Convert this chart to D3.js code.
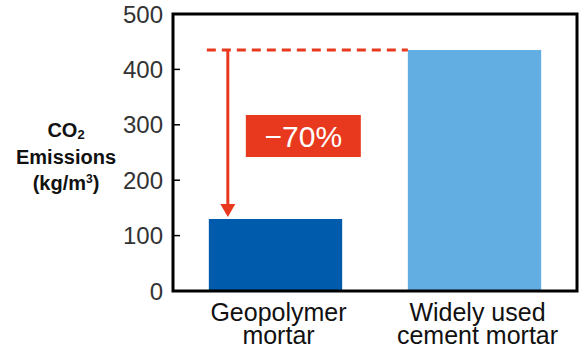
<!DOCTYPE html>
<html>
<head>
<meta charset="utf-8">
<script src="https://cdn.jsdelivr.net/npm/d3@7"></script>
<style>
  body { margin: 0; background: #fff; }
  svg { display: block; font-family: "Liberation Sans", Arial, sans-serif; }
  .tick-label { fill: #333; font-size: 24px; }
  .cat-label { fill: #111; font-size: 25px; }
  .y-title { fill: #111; font-size: 20px; font-weight: bold; }
</style>
</head>
<body>
<svg id="chart"></svg>
<script>
const categories = [['Geopolymer', 'mortar'], ['Widely used', 'cement mortar']];
const values = [130, 435];
const barColors = ['#005bac', '#62aee2'];
const yTicks = [0, 100, 200, 300, 400, 500];
const reductionLabel = '\u221270%';

const W = 582, H = 350;
const margin = {top: 14, right: 5, bottom: 59, left: 173};
const width = W - margin.left - margin.right;
const height = H - margin.top - margin.bottom;
const red = '#e8391f';

const svg = d3.select('#chart').attr('width', W).attr('height', H);
const g = svg.append('g').attr('transform', `translate(${margin.left},${margin.top})`);

const y = d3.scaleLinear().domain([0, 500]).range([height, 0]);
const x = d3.scaleBand().domain(d3.range(categories.length)).range([0, width])
  .paddingInner(0.33).paddingOuter(0.18);

// bars
g.selectAll('.bar').data(values).enter().append('rect')
  .attr('class', 'bar')
  .attr('x', (d, i) => x(i))
  .attr('width', x.bandwidth())
  .attr('y', d => y(d))
  .attr('height', d => y(0) - y(d))
  .attr('fill', (d, i) => barColors[i]);

// frame
g.append('rect').attr('x', 0).attr('y', 0).attr('width', width).attr('height', height)
  .attr('fill', 'none').attr('stroke', '#000').attr('stroke-width', 3);

// y axis ticks (inward) + labels
g.selectAll('.ytick').data(yTicks).enter().append('line')
  .attr('x1', 0).attr('x2', 7).attr('y1', d => y(d)).attr('y2', d => y(d))
  .attr('stroke', '#000').attr('stroke-width', 1.5);
g.selectAll('.tick-label').data(yTicks).enter().append('text')
  .attr('class', 'tick-label')
  .attr('x', -10).attr('y', d => y(d)).attr('dy', '0.36em')
  .attr('text-anchor', 'end').text(d => d);

// category labels
categories.forEach((lines, i) => {
  const cx = x(i) + x.bandwidth() / 2 + 3;
  const t = g.append('text').attr('class', 'cat-label').attr('text-anchor', 'middle')
    .attr('x', cx).attr('y', height + 30);
  lines.forEach((l, j) => t.append('tspan')
    .attr('x', cx).attr('dy', j ? 23 : 0).text(l));
});

// y title
const yt = svg.append('text').attr('class', 'y-title').attr('text-anchor', 'middle')
  .attr('x', 66).attr('y', 137);
yt.append('tspan').text('CO');
yt.append('tspan').attr('font-size', 13).attr('dy', 2).text('2');
svg.append('text').attr('class', 'y-title').attr('text-anchor', 'middle')
  .attr('x', 66).attr('y', 164).text('Emissions');
const yt3 = svg.append('text').attr('class', 'y-title').attr('text-anchor', 'middle')
  .attr('x', 66).attr('y', 190);
yt3.append('tspan').text('(kg/m');
yt3.append('tspan').attr('font-size', 12).attr('dy', -7).text('3');
yt3.append('tspan').attr('dy', 7).text(')');

// dashed reference line at cement level
const x0 = x(0) - 2, x1 = x(1);
const yRef = y(values[1]);
g.append('line').attr('x1', x0).attr('x2', x1).attr('y1', yRef).attr('y2', yRef)
  .attr('stroke', red).attr('stroke-width', 3).attr('stroke-dasharray', '9,6');

// arrow down to geopolymer bar
const ax = x(0) + 19;
const tipY = y(values[0]) - 2;
g.append('line').attr('x1', ax).attr('x2', ax).attr('y1', yRef).attr('y2', tipY - 12)
  .attr('stroke', red).attr('stroke-width', 3);
g.append('path')
  .attr('d', `M${ax - 7.5},${tipY - 13} L${ax + 7.5},${tipY - 13} L${ax},${tipY} Z`)
  .attr('fill', red);

// reduction label
const bx = x(0) + 37, by = 101, bw = 115, bh = 42;
g.append('rect').attr('x', bx).attr('y', by).attr('width', bw).attr('height', bh).attr('fill', red);
g.append('text').attr('x', bx + bw / 2).attr('y', by + bh / 2).attr('dy', '0.36em')
  .attr('text-anchor', 'middle').attr('fill', '#fff').attr('font-size', 30)
  .text(reductionLabel);
</script>
</body>
</html>
